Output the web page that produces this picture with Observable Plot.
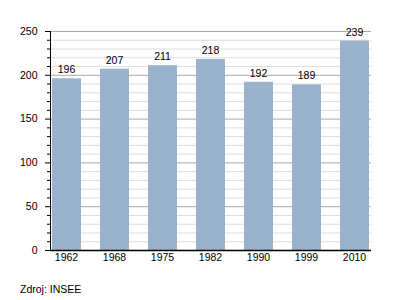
<!DOCTYPE html>
<html>
<head>
<meta charset="utf-8">
<script src="https://cdn.jsdelivr.net/npm/d3@7"></script>
<script src="https://cdn.jsdelivr.net/npm/@observablehq/plot@0.6"></script>
<style>
  html, body { margin: 0; padding: 0; background: #fff; }
  body { width: 400px; height: 300px; overflow: hidden; font-family: "Liberation Sans", Arial, sans-serif; }
  #caption { font-size: 10.5px; color: #000; margin-left: 20px; margin-top: 13px; }
</style>
</head>
<body>
<div id="chart"></div>
<div id="caption">Zdroj: INSEE</div>
<script>
const years = ["1962", "1968", "1975", "1982", "1990", "1999", "2010"];
const values = [196, 207, 211, 218, 192, 189, 239];
const majorTicks = [0, 50, 100, 150, 200, 250];
const minorTicks = d3.range(10, 251, 10).filter(v => v % 50 !== 0);
const gridMajor = [50, 100, 150, 200, 250];

const data = years.map((y, i) => ({year: y, value: values[i]}));

const chart = Plot.plot({
  width: 400,
  height: 270,
  marginTop: 31,
  marginBottom: 20,
  marginLeft: 50,
  marginRight: 29,
  style: {fontFamily: "Liberation Sans, Arial, sans-serif", fontSize: "10.5px", color: "#000", background: "#fff"},
  x: {domain: years, paddingInner: 0.37, paddingOuter: 0.0, label: null},
  y: {domain: [0, 250], label: null},
  marks: [
    Plot.ruleY(minorTicks, {stroke: "#dddddd", strokeWidth: 1}),
    Plot.ruleY(gridMajor, {stroke: "#a8a8a8", strokeWidth: 1}),
    Plot.barY(data, {x: "year", y: "value", fill: "#9ab3cd", insetLeft: 1}),
    Plot.text(data, {x: "year", y: "value", text: d => String(d.value), dy: -9, fill: "#000", fontSize: 10.5}),
    Plot.axisY(majorTicks, {tickSize: 5, tickPadding: 8, fontSize: 10.5, stroke: "#000"}),
    Plot.axisY(minorTicks, {tickSize: 3, tickFormat: () => "", stroke: "#000"}),
    Plot.axisX({tickSize: 0, tickPadding: 3, fontSize: 10.5}),
    Plot.frame({anchor: "left", stroke: "#000"}),
    Plot.ruleY([0], {stroke: "#000", strokeWidth: 1.5})
  ]
});
document.getElementById("chart").appendChild(chart);
</script>
</body>
</html>
